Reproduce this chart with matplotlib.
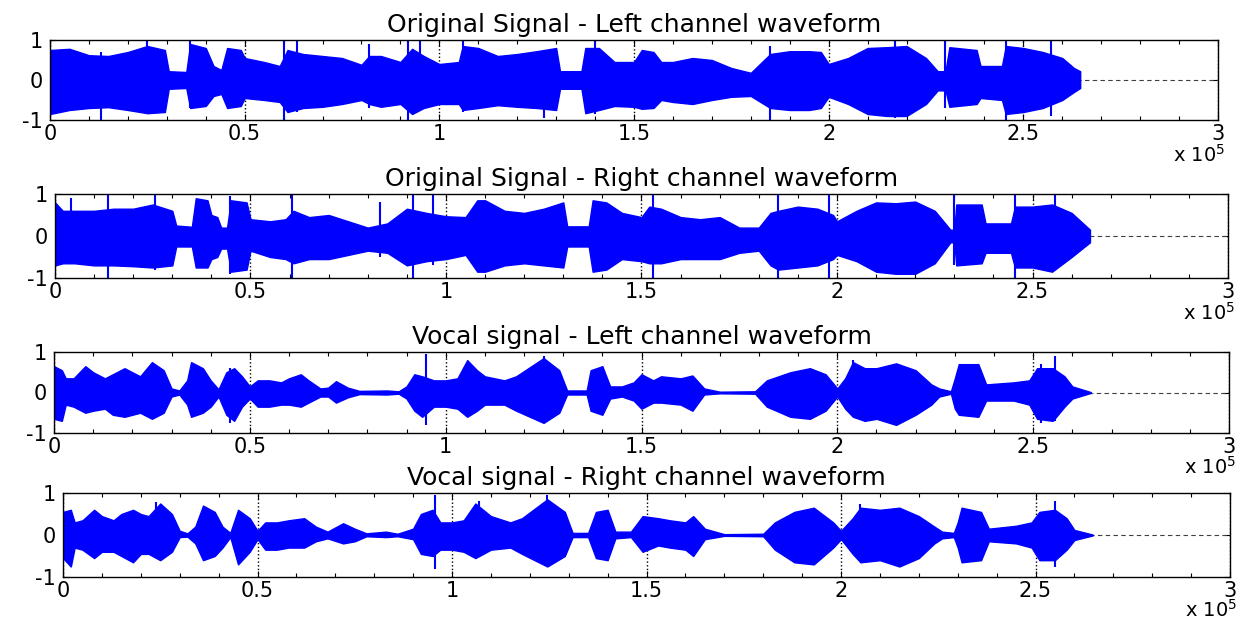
import numpy as np
import matplotlib
matplotlib.use("Agg")
import matplotlib.pyplot as plt
from matplotlib.ticker import MultipleLocator, FuncFormatter

plt.rcParams['font.family'] = 'DejaVu Sans'
plt.rcParams['axes.unicode_minus'] = False

titles = ["Original Signal - Left channel waveform",
          "Original Signal - Right channel waveform",
          "Vocal signal - Left channel waveform",
          "Vocal signal - Right channel waveform"]

# envelope of each waveform:
# (sample index in units of 1e5, upper peak, lower peak)
orig_left = [
    (0.00, 0.75, -0.85), (0.05, 0.78, -0.75), (0.10, 0.62, -0.70), (0.15, 0.60, -0.68),
    (0.20, 0.70, -0.75), (0.25, 0.85, -0.83), (0.295, 0.75, -0.80), (0.305, 0.22, -0.22),
    (0.35, 0.20, -0.20), (0.36, 0.90, -0.70), (0.40, 0.80, -0.65), (0.42, 0.35, -0.40),
    (0.44, 0.25, -0.35), (0.455, 0.80, -0.70), (0.49, 0.75, -0.65), (0.50, 0.55, -0.45),
    (0.55, 0.45, -0.50), (0.59, 0.35, -0.55), (0.61, 0.75, -0.80), (0.65, 0.65, -0.70),
    (0.70, 0.60, -0.67), (0.75, 0.55, -0.60), (0.80, 0.38, -0.50), (0.82, 0.60, -0.60),
    (0.85, 0.60, -0.67), (0.90, 0.45, -0.60), (0.93, 0.78, -0.85), (0.96, 0.60, -0.70),
    (1.00, 0.40, -0.60), (1.05, 0.45, -0.60), (1.06, 0.85, -0.75), (1.10, 0.80, -0.70),
    (1.15, 0.60, -0.63), (1.20, 0.65, -0.67), (1.25, 0.72, -0.70), (1.30, 0.80, -0.75),
    (1.31, 0.22, -0.22), (1.365, 0.22, -0.22), (1.375, 0.80, -0.83), (1.41, 0.80, -0.75),
    (1.45, 0.45, -0.65), (1.50, 0.45, -0.67), (1.52, 0.75, -0.72), (1.55, 0.70, -0.70),
    (1.57, 0.45, -0.50), (1.60, 0.45, -0.55), (1.65, 0.55, -0.60), (1.70, 0.50, -0.50),
    (1.75, 0.30, -0.42), (1.80, 0.18, -0.40), (1.85, 0.65, -0.70), (1.90, 0.72, -0.75),
    (1.95, 0.72, -0.75), (1.98, 0.70, -0.70), (2.00, 0.40, -0.42), (2.05, 0.55, -0.60),
    (2.10, 0.80, -0.85), (2.15, 0.82, -0.90), (2.20, 0.85, -0.90), (2.25, 0.55, -0.60),
    (2.28, 0.22, -0.26), (2.30, 0.22, -0.26), (2.31, 0.82, -0.67), (2.38, 0.75, -0.60),
    (2.39, 0.35, -0.45), (2.445, 0.35, -0.50), (2.455, 0.85, -0.85), (2.50, 0.80, -0.80),
    (2.55, 0.70, -0.70), (2.60, 0.55, -0.50), (2.63, 0.30, -0.30), (2.646, 0.22, -0.20)]

orig_right = [
    (0.00, 0.80, -0.70), (0.02, 0.60, -0.65), (0.05, 0.60, -0.65), (0.10, 0.60, -0.70),
    (0.15, 0.65, -0.70), (0.20, 0.65, -0.72), (0.25, 0.75, -0.75), (0.30, 0.60, -0.70),
    (0.31, 0.25, -0.25), (0.35, 0.22, -0.25), (0.36, 0.90, -0.75), (0.39, 0.85, -0.75),
    (0.40, 0.50, -0.55), (0.415, 0.45, -0.50), (0.425, 0.20, -0.30), (0.44, 0.20, -0.30),
    (0.45, 0.85, -0.85), (0.49, 0.80, -0.80), (0.50, 0.40, -0.35), (0.55, 0.35, -0.50),
    (0.59, 0.40, -0.55), (0.61, 0.60, -0.65), (0.65, 0.45, -0.55), (0.70, 0.50, -0.55),
    (0.75, 0.35, -0.45), (0.80, 0.20, -0.35), (0.85, 0.30, -0.40), (0.90, 0.65, -0.70),
    (0.95, 0.55, -0.60), (1.00, 0.47, -0.55), (1.05, 0.45, -0.45), (1.08, 0.85, -0.85),
    (1.10, 0.85, -0.85), (1.15, 0.60, -0.70), (1.20, 0.55, -0.65), (1.25, 0.65, -0.70),
    (1.30, 0.80, -0.75), (1.31, 0.23, -0.25), (1.365, 0.23, -0.25), (1.375, 0.85, -0.85),
    (1.41, 0.80, -0.80), (1.45, 0.55, -0.55), (1.50, 0.45, -0.60), (1.52, 0.70, -0.65),
    (1.55, 0.65, -0.65), (1.60, 0.45, -0.55), (1.65, 0.40, -0.55), (1.70, 0.45, -0.55),
    (1.75, 0.20, -0.40), (1.80, 0.20, -0.35), (1.83, 0.55, -0.70), (1.85, 0.60, -0.80),
    (1.90, 0.70, -0.75), (1.95, 0.65, -0.70), (1.99, 0.50, -0.55), (2.00, 0.35, -0.45),
    (2.05, 0.60, -0.60), (2.10, 0.80, -0.85), (2.15, 0.78, -0.90), (2.20, 0.82, -0.90),
    (2.25, 0.60, -0.65), (2.29, 0.15, -0.15), (2.30, 0.15, -0.15), (2.305, 0.75, -0.70),
    (2.37, 0.75, -0.65), (2.38, 0.30, -0.40), (2.445, 0.30, -0.40), (2.455, 0.70, -0.75),
    (2.50, 0.70, -0.75), (2.55, 0.75, -0.85), (2.60, 0.55, -0.50), (2.647, 0.15, -0.15)]

vocal_left = [
    (0.00, 0.65, -0.65), (0.02, 0.55, -0.70), (0.03, 0.35, -0.30), (0.05, 0.35, -0.35),
    (0.08, 0.65, -0.50), (0.10, 0.50, -0.45), (0.13, 0.35, -0.40), (0.15, 0.45, -0.55),
    (0.18, 0.60, -0.60), (0.20, 0.50, -0.55), (0.22, 0.40, -0.50), (0.25, 0.75, -0.65),
    (0.28, 0.55, -0.50), (0.30, 0.10, -0.10), (0.32, 0.05, -0.05), (0.34, 0.30, -0.30),
    (0.35, 0.75, -0.60), (0.38, 0.60, -0.50), (0.40, 0.30, -0.35), (0.42, 0.08, -0.10),
    (0.44, 0.50, -0.55), (0.46, 0.60, -0.70), (0.48, 0.40, -0.35), (0.50, 0.15, -0.15),
    (0.52, 0.30, -0.35), (0.55, 0.30, -0.35), (0.58, 0.25, -0.30), (0.60, 0.35, -0.30),
    (0.63, 0.45, -0.35), (0.65, 0.30, -0.25), (0.68, 0.10, -0.10), (0.70, 0.12, -0.10),
    (0.72, 0.28, -0.25), (0.75, 0.12, -0.12), (0.78, 0.04, -0.04), (0.85, 0.05, -0.05),
    (0.88, 0.03, -0.03), (0.90, 0.15, -0.15), (0.92, 0.45, -0.45), (0.94, 0.40, -0.60),
    (0.97, 0.30, -0.35), (1.00, 0.30, -0.35), (1.03, 0.35, -0.40), (1.055, 0.80, -0.60),
    (1.08, 0.55, -0.45), (1.10, 0.40, -0.30), (1.15, 0.30, -0.30), (1.18, 0.40, -0.45),
    (1.25, 0.85, -0.75), (1.29, 0.55, -0.50), (1.31, 0.05, -0.05), (1.36, 0.05, -0.05),
    (1.37, 0.55, -0.45), (1.40, 0.65, -0.55), (1.42, 0.15, -0.15), (1.45, 0.15, -0.10),
    (1.48, 0.25, -0.20), (1.50, 0.45, -0.40), (1.53, 0.30, -0.25), (1.55, 0.40, -0.25),
    (1.60, 0.35, -0.30), (1.63, 0.42, -0.45), (1.66, 0.10, -0.05), (1.70, 0.02, -0.02),
    (1.79, 0.03, -0.03), (1.82, 0.30, -0.35), (1.88, 0.50, -0.60), (1.93, 0.60, -0.65),
    (1.97, 0.45, -0.45), (2.00, 0.10, -0.10), (2.02, 0.35, -0.40), (2.04, 0.75, -0.60),
    (2.07, 0.60, -0.70), (2.10, 0.60, -0.65), (2.15, 0.72, -0.80), (2.20, 0.55, -0.55),
    (2.24, 0.20, -0.30), (2.26, 0.10, -0.10), (2.29, 0.03, -0.03), (2.30, 0.35, -0.40),
    (2.31, 0.70, -0.55), (2.36, 0.70, -0.60), (2.38, 0.20, -0.20), (2.45, 0.25, -0.20),
    (2.49, 0.30, -0.30), (2.51, 0.60, -0.65), (2.55, 0.60, -0.70), (2.58, 0.40, -0.35),
    (2.60, 0.15, -0.15), (2.647, 0.01, -0.01)]

vocal_right = [
    (0.00, 0.55, -0.55), (0.02, 0.60, -0.75), (0.03, 0.30, -0.30), (0.05, 0.35, -0.35),
    (0.08, 0.60, -0.55), (0.10, 0.45, -0.40), (0.13, 0.35, -0.40), (0.15, 0.50, -0.50),
    (0.18, 0.60, -0.65), (0.20, 0.50, -0.45), (0.22, 0.45, -0.45), (0.25, 0.75, -0.60),
    (0.28, 0.50, -0.40), (0.30, 0.10, -0.05), (0.32, 0.04, -0.04), (0.34, 0.20, -0.20),
    (0.36, 0.70, -0.60), (0.39, 0.55, -0.50), (0.41, 0.20, -0.30), (0.43, 0.05, -0.05),
    (0.45, 0.60, -0.70), (0.48, 0.40, -0.40), (0.50, 0.10, -0.10), (0.52, 0.30, -0.35),
    (0.55, 0.30, -0.35), (0.58, 0.35, -0.30), (0.62, 0.40, -0.30), (0.65, 0.20, -0.15),
    (0.68, 0.08, -0.08), (0.72, 0.28, -0.20), (0.75, 0.15, -0.15), (0.78, 0.04, -0.03),
    (0.83, 0.08, -0.05), (0.86, 0.03, -0.03), (0.90, 0.15, -0.10), (0.92, 0.50, -0.45),
    (0.95, 0.60, -0.50), (0.97, 0.30, -0.35), (1.00, 0.30, -0.35), (1.03, 0.35, -0.40),
    (1.06, 0.75, -0.55), (1.08, 0.60, -0.45), (1.10, 0.45, -0.35), (1.15, 0.30, -0.30),
    (1.18, 0.40, -0.45), (1.245, 0.85, -0.75), (1.29, 0.55, -0.50), (1.31, 0.05, -0.05),
    (1.35, 0.05, -0.05), (1.37, 0.55, -0.55), (1.40, 0.60, -0.60), (1.42, 0.08, -0.08),
    (1.46, 0.08, -0.05), (1.49, 0.45, -0.40), (1.53, 0.40, -0.25), (1.56, 0.35, -0.30),
    (1.60, 0.30, -0.35), (1.62, 0.45, -0.50), (1.65, 0.15, -0.10), (1.70, 0.02, -0.02),
    (1.80, 0.03, -0.03), (1.83, 0.30, -0.35), (1.88, 0.55, -0.65), (1.93, 0.65, -0.70),
    (1.98, 0.30, -0.30), (2.00, 0.10, -0.10), (2.03, 0.40, -0.45), (2.05, 0.65, -0.65),
    (2.10, 0.60, -0.60), (2.15, 0.65, -0.75), (2.20, 0.45, -0.55), (2.24, 0.20, -0.20),
    (2.26, 0.08, -0.08), (2.29, 0.05, -0.05), (2.30, 0.30, -0.30), (2.31, 0.65, -0.65),
    (2.36, 0.55, -0.60), (2.38, 0.15, -0.15), (2.45, 0.22, -0.20), (2.49, 0.30, -0.30),
    (2.51, 0.55, -0.60), (2.55, 0.60, -0.60), (2.58, 0.40, -0.35), (2.60, 0.12, -0.12),
    (2.647, 0.01, -0.01)]

# isolated narrow peaks: (position in 1e5 samples, low, high)
orig_left_peaks = [(0.13, -1.0, 0.7), (0.25, -0.85, 1.0), (0.36, -0.7, 1.0), (0.60, -1.0, 1.0),
                   (0.635, -0.8, 1.0), (0.82, -0.7, 0.9), (0.92, -1.0, 1.0), (0.95, -0.7, 1.0),
                   (1.06, -0.8, 1.0), (1.27, -0.95, 0.75), (1.40, -0.85, 1.0), (1.85, -1.0, 0.85),
                   (2.17, -0.95, 1.0), (2.30, -0.7, 1.0), (2.455, -1.0, 1.0), (2.57, -0.9, 1.0)]
orig_right_peaks = [(0.0, -0.7, 0.85), (0.04, -0.6, 0.9), (0.136, -1.0, 1.0), (0.256, -0.8, 1.0),
                    (0.448, -0.9, 0.95), (0.605, -1.0, 1.0), (0.83, -0.5, 0.8), (0.916, -1.0, 1.0),
                    (0.967, -0.7, 1.0), (1.53, -1.0, 1.0), (1.85, -1.0, 1.0), (1.98, -1.0, 1.0),
                    (2.30, -0.7, 1.0), (2.455, -1.0, 1.0), (2.558, -0.8, 1.0)]
vocal_left_peaks = [(0.45, -0.75, 0.6), (0.951, -0.8, 0.95), (1.25, -0.75, 0.9),
                    (2.04, -0.6, 0.8), (2.52, -0.75, 0.7), (2.555, -0.7, 0.9)]
vocal_right_peaks = [(0.02, -0.75, 0.6), (0.24, -0.55, 0.78), (0.956, -0.8, 0.96),
                     (1.07, -0.5, 0.8), (1.245, -0.75, 0.95), (2.05, -0.6, 0.75),
                     (2.55, -0.75, 0.82)]

envelopes = [orig_left, orig_right, vocal_left, vocal_right]
peaks = [orig_left_peaks, orig_right_peaks, vocal_left_peaks, vocal_right_peaks]

x_unit = 1e5
blue = '#0000ff'

# axes boxes in pixels: left, top, right, bottom
boxes = [(50, 40, 1218, 120), (55, 194, 1228, 278),
         (54, 352, 1229, 433), (63, 493, 1230, 577)]
# vertical place of the "x 10^5" note under each axes
scale_note_y = [-0.30, -0.28, -0.28, -0.26]
W, H = 1244, 623

fig = plt.figure(figsize=(W / 100, H / 100), dpi=100)
for i in range(4):
    l, t, r, b = boxes[i]
    ax = fig.add_axes([l / W, 1 - b / H, (r - l) / W, (b - t) / H])
    env = np.array(envelopes[i])
    x = env[:, 0] * x_unit
    ax.fill_between(x, env[:, 2], env[:, 1], color=blue, lw=1.0, zorder=2)
    pk = np.array(peaks[i])
    ax.vlines(pk[:, 0] * x_unit, pk[:, 1], pk[:, 2], color=blue, lw=1.5, zorder=2)
    ax.axhline(0, color='0.25', lw=0.8, ls=(0, (4, 3)), zorder=1)

    ax.set_xlim(0, 3e5)
    ax.set_ylim(-1, 1)
    ax.xaxis.set_major_locator(MultipleLocator(5e4))
    ax.xaxis.set_minor_locator(MultipleLocator(1e4))
    ax.xaxis.set_major_formatter(FuncFormatter(lambda v, p: '%g' % (v / x_unit)))
    ax.set_yticks([-1, 0, 1])
    ax.set_axisbelow(True)
    ax.grid(axis='x', which='major', color='k', ls=':', lw=1.0)
    ax.tick_params(which='both', direction='in', top=True, right=True,
                   labelsize=15, pad=3, width=0.8)
    ax.tick_params(axis='y', pad=5)
    ax.tick_params(which='major', length=4)
    ax.tick_params(which='minor', length=3)
    for s in ax.spines.values():
        s.set_linewidth(1.0)
    ax.set_title(titles[i], fontsize=18, pad=6)
    ax.text(1.006, scale_note_y[i], r'x 10$^5$', transform=ax.transAxes,
            ha='right', va='top', fontsize=14)

fig.savefig('out.png', dpi=100)
